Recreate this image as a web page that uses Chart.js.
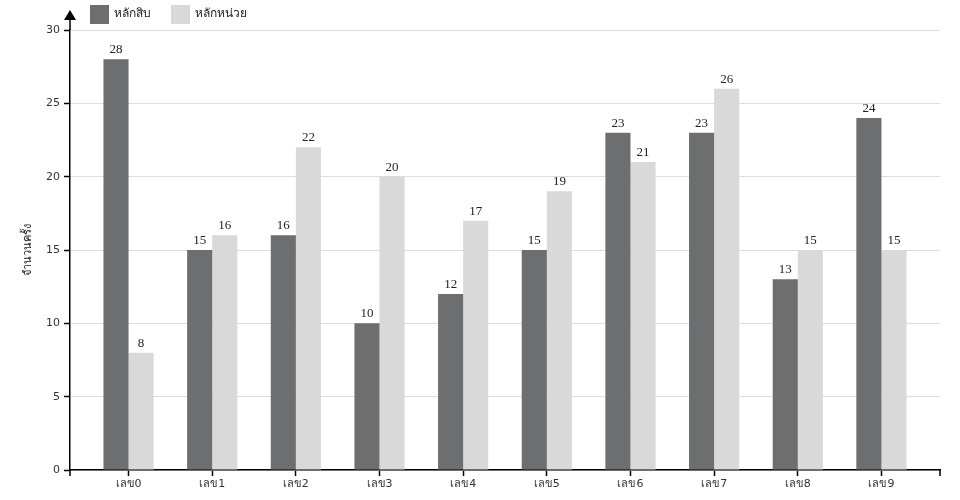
<!DOCTYPE html>
<html>
<head>
<meta charset="utf-8">
<script src="https://cdn.jsdelivr.net/npm/chart.js@4"></script>
<style>
  html, body { margin: 0; padding: 0; background: #fff; }
  #wrap { width: 960px; height: 500px; }
</style>
</head>
<body>
<div id="wrap"><canvas id="chart" width="960" height="500"></canvas></div>
<script>
// data
const categories = ['เลข0', 'เลข1', 'เลข2', 'เลข3', 'เลข4', 'เลข5', 'เลข6', 'เลข7', 'เลข8', 'เลข9'];
const tens = [28, 15, 16, 10, 12, 15, 23, 23, 13, 24];
const units = [8, 16, 22, 20, 17, 19, 21, 26, 15, 15];
const yTicks = [0, 5, 10, 15, 20, 25, 30];

const sansFont = "'DejaVu Sans', sans-serif";

// value labels above each bar
const valueLabels = {
  id: 'valueLabels',
  afterDatasetsDraw(chart) {
    const ctx = chart.ctx;
    ctx.save();
    ctx.font = "13px 'Liberation Serif', serif";
    ctx.fillStyle = '#222';
    ctx.textAlign = 'center';
    ctx.textBaseline = 'bottom';
    chart.data.datasets.forEach((ds, i) => {
      chart.getDatasetMeta(i).data.forEach((bar, j) => {
        ctx.fillText(ds.data[j].y, bar.x, bar.y - 3);
      });
    });
    ctx.restore();
  }
};

// axis arrow, end ticks and the legend in the top-left
const extras = {
  id: 'extras',
  afterDraw(chart) {
    const ctx = chart.ctx;
    const area = chart.chartArea;
    ctx.save();
    ctx.strokeStyle = '#000';
    ctx.lineWidth = 1.5;
    ctx.beginPath();
    ctx.moveTo(area.left, area.top);
    ctx.lineTo(area.left, 18);
    ctx.moveTo(area.left, area.bottom);
    ctx.lineTo(area.left, area.bottom + 6);
    ctx.moveTo(area.right, area.bottom);
    ctx.lineTo(area.right, area.bottom + 6);
    ctx.stroke();
    ctx.fillStyle = '#000';
    ctx.beginPath();
    ctx.moveTo(area.left, 10);
    ctx.lineTo(area.left - 6, 20);
    ctx.lineTo(area.left + 6, 20);
    ctx.closePath();
    ctx.fill();

    // legend
    ctx.font = '12px ' + sansFont;
    ctx.textBaseline = 'middle';
    ctx.textAlign = 'left';
    let x = 90;
    chart.data.datasets.forEach(ds => {
      ctx.fillStyle = ds.backgroundColor;
      ctx.fillRect(x, 5, 19, 19);
      ctx.fillStyle = '#222';
      ctx.fillText(ds.label, x + 24, 14);
      x += 24 + ctx.measureText(ds.label).width + 20;
    });
    ctx.restore();
  }
};

const toPoints = arr => arr.map((v, i) => ({ x: i, y: v }));

new Chart(document.getElementById('chart'), {
  type: 'bar',
  data: {
    datasets: [
      { label: 'หลักสิบ', data: toPoints(tens), backgroundColor: '#6d6e70' },
      { label: 'หลักหน่วย', data: toPoints(units), backgroundColor: '#d9d9d9' }
    ]
  },
  options: {
    responsive: false,
    animation: false,
    layout: { padding: { top: 30, left: 10, right: 20, bottom: 0 } },
    datasets: { bar: { categoryPercentage: 0.6, barPercentage: 1 } },
    plugins: {
      legend: { display: false },
      tooltip: { enabled: false }
    },
    scales: {
      x: {
        type: 'linear',
        min: -0.7,
        max: 9.7,
        offset: false,
        afterBuildTicks(scale) { scale.ticks = categories.map((c, i) => ({ value: i })); },
        grid: { display: true, offset: false, drawOnChartArea: false, tickLength: 6, tickColor: '#000', tickWidth: 1.5 },
        border: { color: '#000', width: 1.5 },
        ticks: {
          color: '#333', font: { family: sansFont, size: 11 }, padding: 2, maxRotation: 0, autoSkip: false,
          callback: v => categories[v]
        },
        afterFit(scale) { scale.height = 30; }
      },
      y: {
        min: 0,
        max: 30,
        afterBuildTicks(scale) { scale.ticks = yTicks.map(v => ({ value: v })); },
        grid: { color: '#dddddd', tickLength: 6, tickColor: '#000', tickWidth: 1.5 },
        border: { color: '#000', width: 1.5 },
        ticks: { color: '#333', font: { family: sansFont, size: 11 }, padding: 4 },
        title: { display: true, text: 'จำนวนครั้ง', color: '#222', font: { family: sansFont, size: 11 }, padding: { top: 12, bottom: 0 } },
        afterFit(scale) { scale.width = 60; }
      }
    }
  },
  plugins: [valueLabels, extras]
});
</script>
</body>
</html>
